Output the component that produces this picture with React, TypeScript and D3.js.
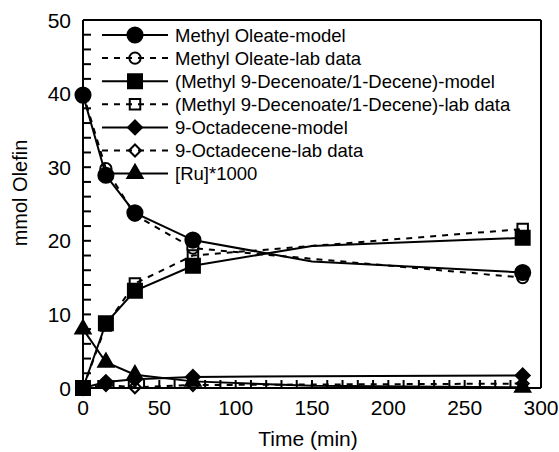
import React from "react";
import * as d3 from "d3";

// Sampling times (min) of the lab measurements and of the model markers
const sampleTimes = [0, 15, 34, 72, 288];
// Model curves carry one extra knot between the last two samples
const modelTimes = [0, 15, 34, 72, 150, 288];

const oleateModel = [39.8, 28.9, 23.8, 20.1, 17.2, 15.7];
const oleateLab = [40.0, 29.8, 23.5, 19.0, 15.0];
const decenoateModel = [0, 8.8, 13.2, 16.6, 19.3, 20.4];
const decenoateLab = [0, 8.5, 14.2, 18.0, 21.6];
const octadeceneModel = [0, 0.8, 1.2, 1.5, 1.6, 1.7];
const octadeceneLab = [0, 0.4, 0.1, 0.4, 0.6];
const ruModel = [8.0, 3.5, 1.8, 0.9, 0.3, 0.1];

const legendLabels = [
  "Methyl Oleate-model",
  "Methyl Oleate-lab data",
  "(Methyl 9-Decenoate/1-Decene)-model",
  "(Methyl 9-Decenoate/1-Decene)-lab data",
  "9-Octadecene-model",
  "9-Octadecene-lab data",
  "[Ru]*1000",
];

const xTicks = [0, 50, 100, 150, 200, 250, 300];
const yTicks = [0, 10, 20, 30, 40, 50];

type Marker = "circle" | "square" | "diamond" | "triangle";

interface Series {
  times: number[];
  values: number[];
  markerTimes: number[];
  dashed: boolean;
  marker: Marker;
  filled: boolean;
}

const seriesList: Series[] = [
  { times: modelTimes, values: oleateModel, markerTimes: sampleTimes, dashed: false, marker: "circle", filled: true },
  { times: sampleTimes, values: oleateLab, markerTimes: sampleTimes, dashed: true, marker: "circle", filled: false },
  { times: modelTimes, values: decenoateModel, markerTimes: sampleTimes, dashed: false, marker: "square", filled: true },
  { times: sampleTimes, values: decenoateLab, markerTimes: sampleTimes, dashed: true, marker: "square", filled: false },
  { times: modelTimes, values: octadeceneModel, markerTimes: sampleTimes, dashed: false, marker: "diamond", filled: true },
  { times: sampleTimes, values: octadeceneLab, markerTimes: sampleTimes, dashed: true, marker: "diamond", filled: false },
  { times: modelTimes, values: ruModel, markerTimes: sampleTimes, dashed: false, marker: "triangle", filled: true },
];

const W = 559;
const H = 452;
const left = 83;
const right = 541;
const top = 20;
const bottom = 388;
const FONT = "Liberation Sans, Arial, sans-serif";

function markerPath(kind: Marker, filled: boolean): string {
  const sym = d3.symbol();
  if (kind === "circle") return sym.type(d3.symbolCircle).size(filled ? 180 : 100)() as string;
  if (kind === "square") return sym.type(d3.symbolSquare).size(filled ? 196 : 110)() as string;
  if (kind === "triangle") return sym.type(d3.symbolTriangle).size(100)() as string;
  // regular diamond: a square turned by 45 degrees
  const h = filled ? 7 : 6;
  return `M0,${-h}L${h},0L0,${h}L${-h},0Z`;
}

export default function App() {
  const x = d3.scaleLinear().domain([0, 300]).range([left, right]);
  const y = d3.scaleLinear().domain([0, 50]).range([bottom, top]);

  const line = (s: Series) =>
    d3
      .line<number>()
      .x((_, i) => x(s.times[i]))
      .y((v) => y(v))(s.values) as string;

  const minorX = d3.range(0, 301, 10);
  const minorY = d3.range(0, 51, 2);

  const legendX0 = 102;
  const legendX1 = 168;
  const legendTextX = 175;
  const legendY = (i: number) => 35 + i * 23.1;

  return (
    <svg width={W} height={H} style={{ display: "block", position: "absolute", left: 0, top: 0, background: "#fff" }}>
      <rect x={0} y={0} width={W} height={H} fill="#fff" />

      {/* frame */}
      <g stroke="#000" strokeWidth={2} fill="none">
        <line x1={left} x2={right} y1={top} y2={top} />
        <line x1={right} x2={right} y1={top} y2={bottom} />
      </g>

      {/* series lines */}
      <g fill="none" stroke="#000" strokeWidth={2}>
        {seriesList.map((s, i) => (
          <path key={i} d={line(s)} strokeDasharray={s.dashed ? "6,6" : undefined} />
        ))}
      </g>

      {/* series markers */}
      {seriesList.map((s, i) => (
        <g key={i}>
          {s.markerTimes.map((t) => {
            const idx = s.times.indexOf(t);
            return (
              <path
                key={t}
                d={markerPath(s.marker, s.filled)}
                transform={`translate(${x(t)},${y(s.values[idx])})`}
                fill={s.filled ? "#000" : "none"}
                stroke="#000"
                strokeWidth={2}
              />
            );
          })}
        </g>
      ))}

      {/* axes */}
      <g stroke="#000" strokeWidth={2}>
        <line x1={left} x2={left} y1={top} y2={bottom} />
        <line x1={left} x2={right} y1={bottom} y2={bottom} />
        {minorY.map((v) => (
          <line key={"y" + v} x1={left} x2={left + 8} y1={y(v)} y2={y(v)} />
        ))}
        {minorX.map((v) => (
          <line key={"x" + v} x1={x(v)} x2={x(v)} y1={bottom} y2={bottom - 8} />
        ))}
      </g>

      <g fontFamily={FONT} fontSize={21} fill="#000">
        {yTicks.map((v) => (
          <text key={v} x={left - 12} y={y(v)} textAnchor="end" dominantBaseline="central">
            {v}
          </text>
        ))}
        {xTicks.map((v) => (
          <text key={v} x={x(v)} y={415} textAnchor="middle">
            {v}
          </text>
        ))}
        <text x={308} y={446} textAnchor="middle">Time (min)</text>
        <text transform={`translate(27,193) rotate(-90)`} textAnchor="middle" fontSize={20}>
          mmol Olefin
        </text>
      </g>

      {/* legend */}
      <g>
        {seriesList.map((s, i) => {
          const ly = legendY(i);
          return (
            <g key={i}>
              <line
                x1={legendX0}
                x2={legendX1}
                y1={ly}
                y2={ly}
                stroke="#000"
                strokeWidth={2}
                strokeDasharray={s.dashed ? "6,6" : undefined}
              />
              <path
                d={markerPath(s.marker, s.filled)}
                transform={`translate(${(legendX0 + legendX1) / 2},${ly})`}
                fill={s.filled ? "#000" : "none"}
                stroke="#000"
                strokeWidth={2}
              />
              <text x={legendTextX} y={ly} dominantBaseline="central" fontFamily={FONT} fontSize={18.5} fill="#000">
                {legendLabels[i]}
              </text>
            </g>
          );
        })}
      </g>
    </svg>
  );
}
